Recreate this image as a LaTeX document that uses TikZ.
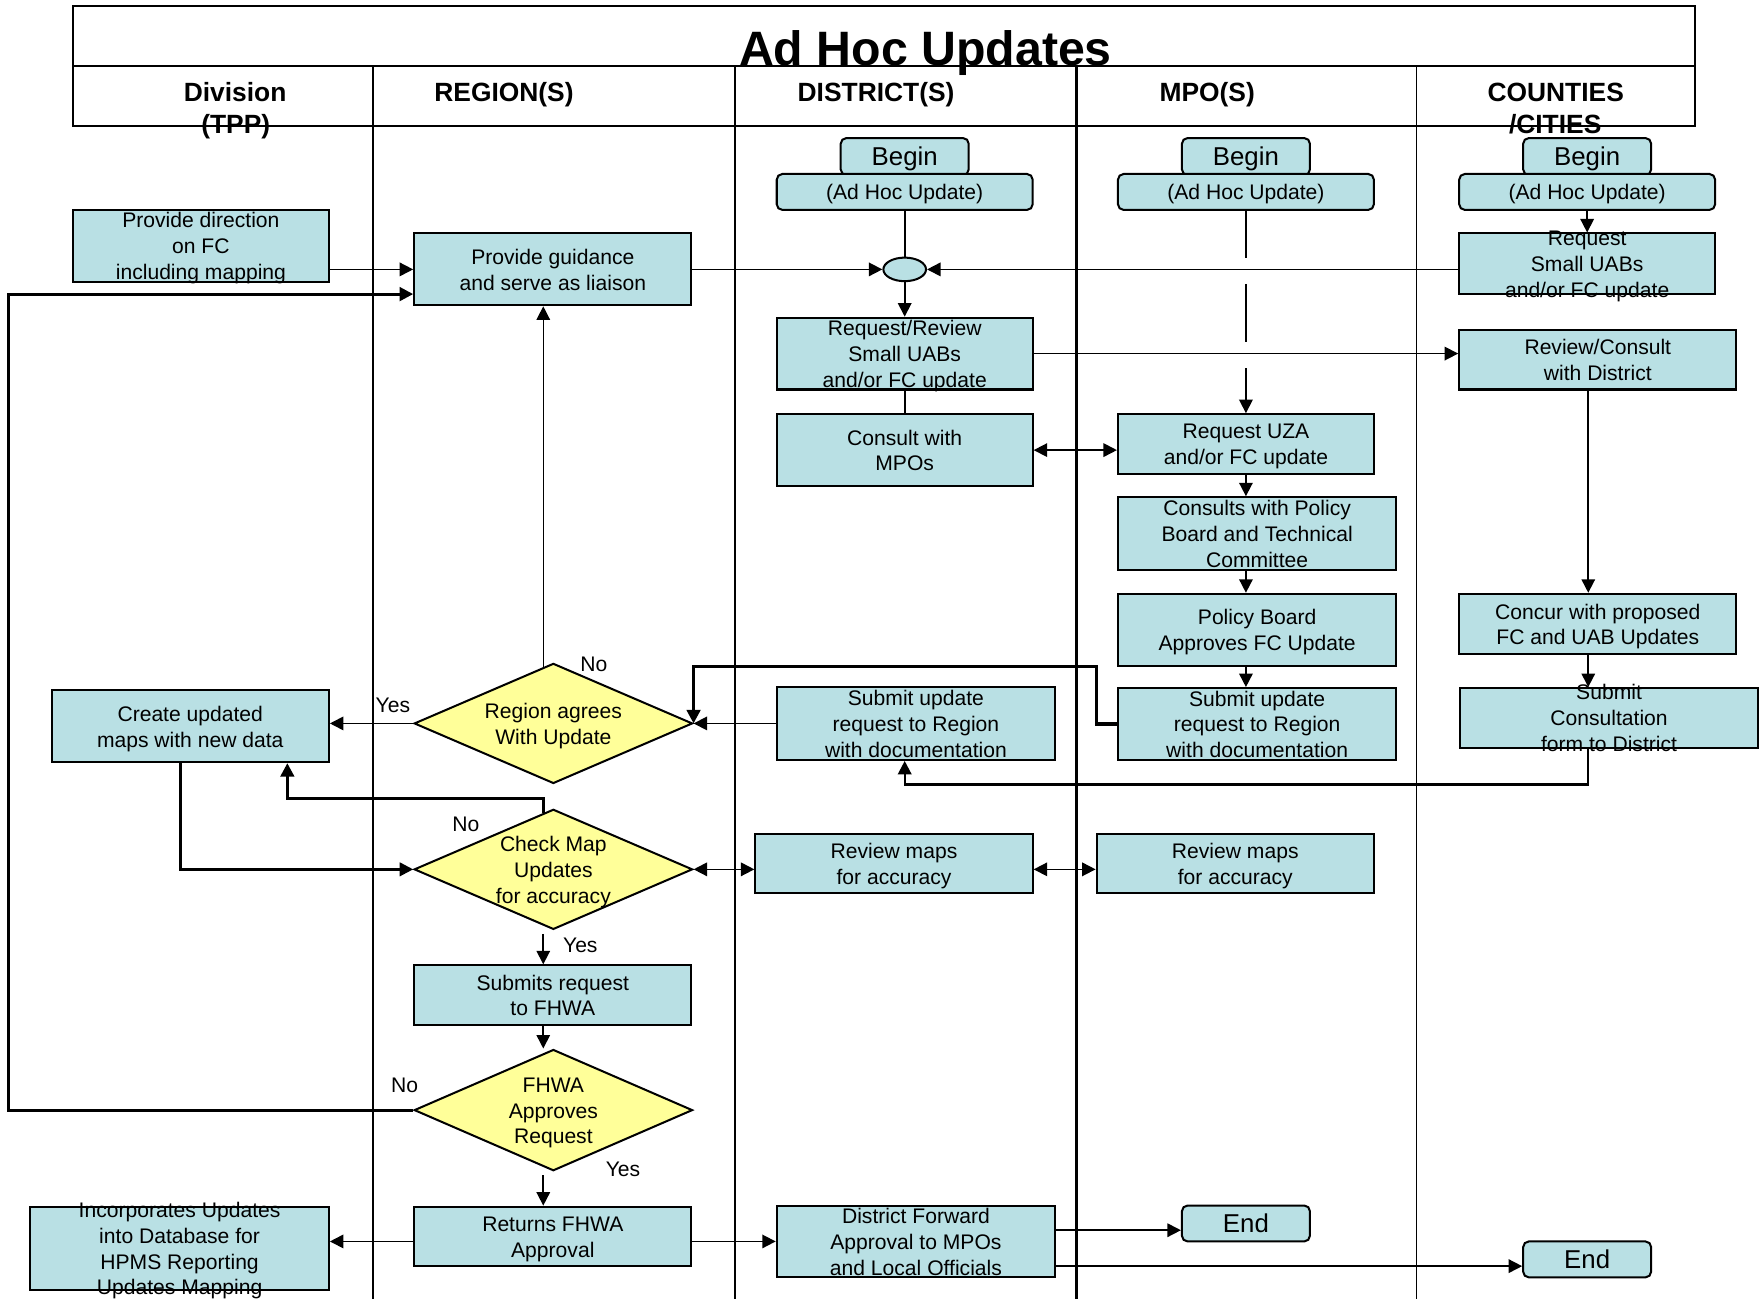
\documentclass[tikz,border=0pt]{standalone}
\usepackage{fontspec}
\setmainfont{Liberation Sans}
\usetikzlibrary{arrows.meta,shapes.geometric}
\definecolor{boxblue}{RGB}{185,224,228}
\definecolor{dyellow}{RGB}{255,255,153}
\newcommand\ctrtext[1]{\vbox to 0pt{\kern5pt\vss\hbox{\begin{tabular}{@{}c@{}}#1\end{tabular}}\vss}}
\begin{document}
\begin{tikzpicture}[x=1pt,y=-1pt,
  box/.style={draw, line width=1.8pt, fill=boxblue, rectangle, inner sep=0pt, font=\fontsize{18.8}{23}\selectfont},
  rbox/.style={box, rounded corners=5pt, font=\fontsize{18.8}{23}\selectfont},
  bigbox/.style={box, rounded corners=5pt, font=\fontsize{23}{27}\selectfont},
  dia/.style={draw, line width=1.8pt, fill=dyellow, diamond, aspect=2.3, inner sep=0pt, font=\fontsize{18.8}{23}\selectfont},
  ln/.style={line width=1.5pt},
  thk/.style={line width=2.7pt},
  arr/.style={ln, -{Triangle[length=12pt,width=12pt]}},
  darr/.style={ln, {Triangle[length=12pt,width=12pt]}-{Triangle[length=12pt,width=12pt]}},
  lbl/.style={font=\fontsize{18.8}{23}\selectfont, inner sep=0pt},
  hdr/.style={font=\fontsize{23.5}{28}\selectfont\bfseries, inner sep=0pt, anchor=base},
]
\useasboundingbox (0,0) rectangle (1568,1157);
% frame and lanes
\draw[line width=1.8pt] (65,5) rectangle (1510,112);
\draw[line width=1.8pt] (65,59) -- (1510,59);
\draw[line width=1.8pt] (332,59) -- (332,1157);
\draw[line width=1.3pt] (655,59) -- (655,1157);
\draw[line width=2.7pt] (959,59) -- (959,1157);
\draw[line width=1.3pt] (1262,59) -- (1262,1157);
\node[anchor=base, inner sep=0pt, font=\fontsize{43}{50}\selectfont\bfseries] (title) at (824.5,58) {Ad Hoc Updates};
\node[hdr] (h1a) at (209.5,90.6) {Division};
\node[hdr] (h1b) at (210,118.6) {(TPP)};
\node[hdr] (h2) at (449,90.6) {REGION(S)};
\node[hdr] (h3) at (780.5,90.6) {DISTRICT(S)};
\node[hdr] (h4) at (1075.5,90.6) {MPO(S)};
\node[hdr] (h5a) at (1386,90.6) {COUNTIES};
\node[hdr] (h5b) at (1385.5,118.6) {/CITIES};

% Division lane
\node[box, minimum width=228pt, minimum height=64pt] (dir) at (179,219) {\ctrtext{Provide direction\\on FC\\including mapping}};
\node[box, minimum width=247pt, minimum height=64pt] (create) at (169.5,647) {\ctrtext{Create updated\\maps with new data}};
\node[box, minimum width=266pt, minimum height=74pt] (incorp) at (160,1112) {\ctrtext{Incorporates Updates\\into Database for\\HPMS Reporting\\Updates Mapping}};

% Region lane
\node[box, minimum width=247pt, minimum height=64pt] (guide) at (492.5,240) {\ctrtext{Provide guidance\\and serve as liaison}};
\node[dia, minimum width=248pt, minimum height=107pt] (agree) at (493,644.5) {\ctrtext{Region agrees\\With Update}};
\node[dia, minimum width=248pt, minimum height=107pt] (check) at (493,774.5) {\ctrtext{Check Map\\Updates\\for accuracy}};
\node[box, minimum width=247pt, minimum height=53pt] (submits) at (492.5,886.5) {\ctrtext{Submits request\\to FHWA}};
\node[dia, minimum width=248pt, minimum height=108pt] (fhwa) at (493,989) {\ctrtext{FHWA\\Approves\\Request}};
\node[box, minimum width=247pt, minimum height=53pt] (returns) at (492.5,1101.5) {\ctrtext{Returns FHWA\\Approval}};

% District lane
\node[bigbox, minimum width=114pt, minimum height=33pt] (begin1) at (806,139.5) {\ctrtext{Begin}};
\node[rbox, minimum width=228pt, minimum height=32pt] (adhoc1) at (806,171) {\ctrtext{(Ad Hoc Update)}};
\node[ellipse, draw, line width=1.8pt, fill=boxblue, minimum width=38pt, minimum height=21pt, inner sep=0pt] (ell) at (806,240) {};
\node[box, minimum width=228pt, minimum height=64pt] (reqrev) at (806,315) {\ctrtext{Request/Review\\Small UABs\\and/or FC update}};
\node[box, minimum width=228pt, minimum height=64pt] (consult) at (806,401) {\ctrtext{Consult with\\MPOs}};
\node[box, minimum width=248pt, minimum height=65pt] (subdist) at (816,644.5) {\ctrtext{Submit update\\request to Region\\with documentation}};
\node[box, minimum width=247pt, minimum height=53pt] (revdist) at (796.5,769.5) {\ctrtext{Review maps\\for accuracy}};
\node[box, minimum width=248pt, minimum height=64pt] (forward) at (816,1106) {\ctrtext{District Forward\\Approval to MPOs\\and Local Officials}};

% MPO lane
\node[bigbox, minimum width=114pt, minimum height=33pt] (begin2) at (1110,139.5) {\ctrtext{Begin}};
\node[rbox, minimum width=228pt, minimum height=32pt] (adhoc2) at (1110,171) {\ctrtext{(Ad Hoc Update)}};
\node[box, minimum width=228pt, minimum height=53pt] (requza) at (1110,395.5) {\ctrtext{Request UZA\\and/or FC update}};
\node[box, minimum width=248pt, minimum height=65pt] (consults) at (1120,475.5) {\ctrtext{Consults with Policy\\Board and Technical\\Committee}};
\node[box, minimum width=248pt, minimum height=64pt] (policy) at (1120,561) {\ctrtext{Policy Board\\Approves FC Update}};
\node[box, minimum width=248pt, minimum height=64pt] (submpo) at (1120,645) {\ctrtext{Submit update\\request to Region\\with documentation}};
\node[box, minimum width=247pt, minimum height=53pt] (revmpo) at (1100.5,769.5) {\ctrtext{Review maps\\for accuracy}};
\node[bigbox, minimum width=114pt, minimum height=32pt] (end1) at (1110,1090) {\ctrtext{End}};

% Counties lane
\node[bigbox, minimum width=114pt, minimum height=33pt] (begin3) at (1414,139.5) {\ctrtext{Begin}};
\node[rbox, minimum width=228pt, minimum height=32pt] (adhoc3) at (1414,171) {\ctrtext{(Ad Hoc Update)}};
\node[box, minimum width=228pt, minimum height=54pt] (reqsmall) at (1414,235) {\ctrtext{Request\\Small UABs\\and/or FC update}};
\node[box, minimum width=247pt, minimum height=53pt] (revcons) at (1423.5,320.5) {\ctrtext{Review/Consult\\with District}};
\node[box, minimum width=247pt, minimum height=54pt] (concur) at (1423.5,556) {\ctrtext{Concur with proposed\\FC and UAB Updates}};
\node[box, minimum width=266pt, minimum height=53pt] (submitcons) at (1433.5,639.5) {\ctrtext{Submit\\Consultation\\form to District}};
\node[bigbox, minimum width=114pt, minimum height=32pt] (end2) at (1414,1122) {\ctrtext{End}};

% helper coordinates
\coordinate (gin2) at ([yshift=-22pt]guide.west);
\coordinate (lp) at (8,600);
\coordinate (kink) at (977,594);
\coordinate (agn) at ([xshift=-9pt,yshift=-4pt]agree.north);
\coordinate (ckn) at ([xshift=-9pt,yshift=-4pt]check.north);
\coordinate (k2) at (256,711);
\coordinate (crs) at ([xshift=86.5pt]create.south);
\coordinate (crs2) at ([xshift=-8.5pt]create.south);
\coordinate (rv) at ([yshift=-5pt]revdist.east);
\coordinate (cks) at ([xshift=-9pt,yshift=-3pt]check.south);
\coordinate (sbs) at ([xshift=-8.5pt]submits.south);
\coordinate (fhs) at ([xshift=-9pt,yshift=-3pt]fhwa.south);
\coordinate (rtw) at ([yshift=-4.5pt]returns.west);
\coordinate (rte) at ([yshift=-4.5pt]returns.east);
\coordinate (e1) at ([yshift=-6pt]end1.west);
\coordinate (e2) at ([yshift=-6pt]end2.west);
\coordinate (rcs) at ([xshift=-8.5pt]revcons.south);
\coordinate (ccs) at ([xshift=-8.5pt]concur.south);
\coordinate (scs) at (ccs |- submitcons.south);
\coordinate (sds) at ([xshift=-10pt]subdist.south);
\coordinate (cos) at (requza.south |- consults.south);
\coordinate (pos) at (requza.south |- policy.south);

% connectors
\draw[arr] (dir.east |- guide.west) -- (guide.west);
\draw[arr, thk] (fhwa.west) -| (lp) |- (gin2);
\draw[arr] (guide.east) -- (ell.west);
\draw[arr] (reqsmall.west |- ell.east) -- (ell.east);
\draw[ln] (adhoc1.south) -- (ell.north);
\draw[arr] (ell.south) -- (reqrev.north);
\draw[ln] (reqrev.south) -- (consult.north);
\draw[arr] (reqrev.east) -- (reqrev.east -| revcons.west);
\draw[darr] (consult.east) -- (consult.east -| requza.west);
\draw[arr, dash pattern=on 42pt off 23pt on 52pt off 23pt on 80pt] (adhoc2.south) -- (requza.north);
\draw[arr] (requza.south) -- (requza.south |- consults.north);
\draw[arr] (cos) -- (cos |- policy.north);
\draw[arr] (pos) -- (pos |- submpo.north);
\draw[arr, thk] (submpo.west) -| (kink) -| (agree.east);
\draw[arr] (subdist.west) -- (agree.east);
\draw[arr, line width=1.1pt] (agn) -- (agn |- guide.south);
\draw[arr] (agree.west) -- (create.east |- agree.west);
\draw[arr, thk] (ckn) |- (k2) -- (crs);
\draw[arr, line width=2.2pt] (crs2) |- (check.west);
\draw[darr] (check.east) -- (revdist.west |- check.east);
\draw[darr] (rv) -- (rv -| revmpo.west);
\draw[arr] (cks) -- (cks |- submits.north);
\draw[arr] (sbs) -- (sbs |- fhwa.north);
\draw[arr] (fhs) -- (fhs |- returns.north);
\draw[arr] (rtw) -- (rtw -| incorp.east);
\draw[arr] (rte) -- (rte -| forward.west);
\draw[arr] (e1 -| forward.east) -- (e1);
\draw[arr] (e2 -| forward.east) -- (e2);
\draw[arr] (adhoc3.south) -- (reqsmall.north);
\draw[arr] (rcs) -- (rcs |- concur.north);
\draw[arr] (ccs) -- (ccs |- submitcons.north);
\draw[arr, line width=2pt] (scs) -- ++(0,32) -| (sds);

% labels
\node[lbl] (l1) at (529,592) {No};
\node[lbl] (l2) at (350,628) {Yes};
\node[lbl] (l3) at (415,734) {No};
\node[lbl] (l4) at (517,842) {Yes};
\node[lbl] (l5) at (360.5,967) {No};
\node[lbl] (l6) at (555,1042) {Yes};
\end{tikzpicture}
\end{document}
